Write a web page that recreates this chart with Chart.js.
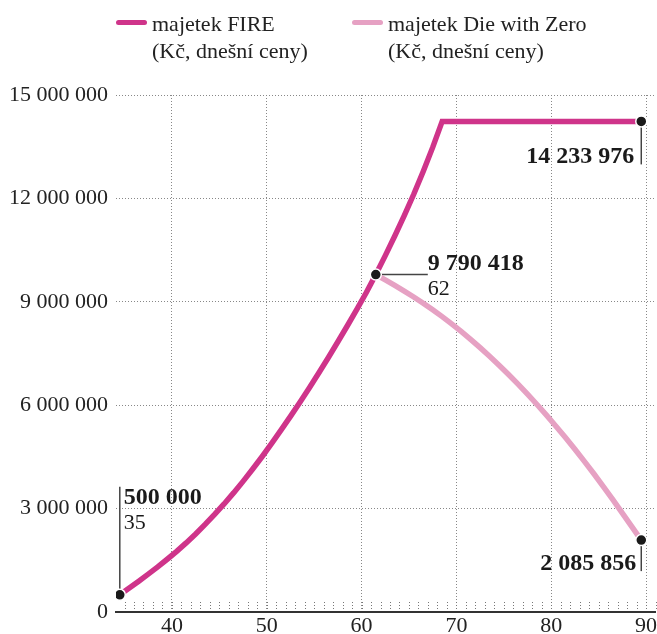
<!DOCTYPE html>
<html>
<head>
<meta charset="utf-8">
<script src="https://cdn.jsdelivr.net/npm/chart.js@4.4.1/dist/chart.umd.min.js"></script>
<style>
  html, body { margin: 0; padding: 0; background: #fff; overflow: hidden; }
  #wrap { position: relative; width: 657px; height: 634px; }
  #chart { position: absolute; left: 0; top: 0; }
  .item { position: absolute; top: 10px; padding-left: 36px; font-family: 'Liberation Serif', serif; font-size: 22px; line-height: 27px; color: #222; white-space: nowrap; }
  .item .swatch { position: absolute; left: 0; top: 10px; width: 31px; height: 5px; border-radius: 3px; }
  #item0 { left: 116px; }
  #item1 { left: 352px; }
</style>
</head>
<body>
<div id="wrap">
  <canvas id="chart" width="657" height="634"></canvas>
  <div id="legend"></div>
</div>
<script>
// věk (x) a majetek v Kč, dnešní ceny
const ages = [35, 36, 37, 38, 39, 40, 41, 42, 43, 44, 45, 46, 47, 48, 49, 50, 51, 52, 53, 54,
              55, 56, 57, 58, 59, 60, 61, 62, 63, 64, 65, 66, 67, 68, 69, 70, 71, 72, 73, 74,
              75, 76, 77, 78, 79, 80, 81, 82, 83, 84, 85, 86, 87, 88, 89, 90];
const fireValues = [500000, 695000, 895000, 1100000, 1310000, 1530000, 1760000, 2005000, 2265000, 2540000,
                    2830000, 3135000, 3455000, 3790000, 4140000, 4505000, 4885000, 5275000, 5675000, 6085000,
                    6505000, 6940000, 7385000, 7840000, 8305000, 8780000, 9270000, 9790418, 10340000, 10910000,
                    11500000, 12120000, 12780000, 13480000, 14233976, 14233976, 14233976, 14233976, 14233976, 14233976,
                    14233976, 14233976, 14233976, 14233976, 14233976, 14233976, 14233976, 14233976, 14233976, 14233976,
                    14233976, 14233976, 14233976, 14233976, 14233976, 14233976];
const dwzAges = [62, 63, 64, 65, 66, 67, 68, 69, 70, 71, 72, 73, 74, 75, 76, 77, 78, 79, 80, 81,
                 82, 83, 84, 85, 86, 87, 88, 89, 90];
const dwzValues = [9790418, 9635000, 9475000, 9310000, 9140000, 8960000, 8770000, 8570000, 8360000, 8140000,
                   7910000, 7670000, 7420000, 7160000, 6890000, 6610000, 6320000, 6020000, 5710000, 5390000,
                   5060000, 4720000, 4370000, 4010000, 3640000, 3260000, 2870000, 2475000, 2085856];

const seriesNames = ['majetek FIRE', 'majetek Die with Zero'];
const unitNote = '(Kč, dnešní ceny)';
const xTicks = [40, 50, 60, 70, 80, 90];
const yTicks = [0, 3000000, 6000000, 9000000, 12000000, 15000000];

// popisky bodů: řada, věk, zda ukázat věk
const calloutSeries = [0, 0, 0, 1];
const calloutAges = [35, 62, 90, 90];
const calloutShowAge = [true, true, false, false];

const colors = ['#cf348a', '#e6a1c3'];
const fmt = v => String(Math.round(v)).replace(/\B(?=(\d{3})+(?!\d))/g, ' ');
const AGE_SHIFT = 0.5; // ticks sit half a year right of the data points

// legend in html
const legend = document.getElementById('legend');
seriesNames.forEach((name, i) => {
    const div = document.createElement('div');
    div.className = 'item';
    div.id = 'item' + i;
    div.innerHTML = '<span class="swatch" style="background:' + colors[i] + '"></span>' + name + '<br>' + unitNote;
    legend.appendChild(div);
});

function isCallout(ctx) {
    const age = ctx.raw && ctx.raw.x;
    return calloutAges.some((a, k) => a === age && calloutSeries[k] === ctx.datasetIndex);
}

function calloutPoint(chart, k) {
    const { x, y } = chart.scales;
    const vals = calloutSeries[k] === 0 ? fireValues : dwzValues;
    const list = calloutSeries[k] === 0 ? ages : dwzAges;
    const value = vals[list.indexOf(calloutAges[k])];
    return { value, px: x.getPixelForValue(calloutAges[k]), py: y.getPixelForValue(value) };
}

const decorations = {
    id: 'decorations',
    beforeDatasetsDraw(chart) {
        const { ctx, chartArea, scales: { x } } = chart;
        ctx.save();
        // small yearly marks above the axis
        ctx.strokeStyle = '#777';
        ctx.lineWidth = 1;
        ctx.setLineDash([1, 2]);
        for (let v = Math.ceil(x.min - AGE_SHIFT) + AGE_SHIFT; v <= x.max; v++) {
            const px = Math.round(x.getPixelForValue(v)) + 0.5;
            ctx.beginPath();
            ctx.moveTo(px, chartArea.bottom - 3);
            ctx.lineTo(px, chartArea.bottom - 11);
            ctx.stroke();
        }
        ctx.setLineDash([]);
        // leader lines
        ctx.strokeStyle = '#444';
        ctx.lineWidth = 1.5;
        calloutAges.forEach((age, k) => {
            const { px, py } = calloutPoint(chart, k);
            ctx.beginPath();
            ctx.moveTo(px, py);
            if (k === 0) ctx.lineTo(px, py - 108);
            if (k === 1) ctx.lineTo(px + 52, py);
            if (k === 2) ctx.lineTo(px, py + 43);
            if (k === 3) ctx.lineTo(px, py + 31);
            ctx.stroke();
        });
        ctx.restore();
    },
    afterDatasetsDraw(chart) {
        const { ctx } = chart;
        ctx.save();
        ctx.fillStyle = '#1a1a1a';
        ctx.textBaseline = 'alphabetic';
        calloutAges.forEach((age, k) => {
            const { value, px, py } = calloutPoint(chart, k);
            let tx, ty, align;
            if (k === 0) { tx = px + 4; ty = py - 91; align = 'left'; }
            if (k === 1) { tx = px + 52; ty = py - 5; align = 'left'; }
            if (k === 2) { tx = px - 7; ty = py + 42; align = 'right'; }
            if (k === 3) { tx = px - 5; ty = py + 30; align = 'right'; }
            ctx.textAlign = align;
            ctx.font = "bold 24px 'Liberation Serif', serif";
            ctx.fillText(fmt(value), tx, ty);
            if (calloutShowAge[k]) {
                ctx.font = "22px 'Liberation Serif', serif";
                ctx.fillText(String(age), tx, ty + 25);
            }
        });
        ctx.restore();
    }
};

Chart.defaults.font.family = "'Liberation Serif', serif";
Chart.defaults.color = '#222';

new Chart(document.getElementById('chart'), {
    type: 'line',
    data: {
        datasets: [
            {
                label: seriesNames[0],
                data: ages.map((a, i) => ({ x: a, y: fireValues[i] })),
                borderColor: colors[0],
                borderWidth: 5.5,
                tension: 0,
                pointRadius: ctx => isCallout(ctx) ? 5.5 : 0,
                pointBackgroundColor: '#1a1a1a',
                pointBorderColor: '#fff',
                pointBorderWidth: 1.5
            },
            {
                label: seriesNames[1],
                data: dwzAges.map((a, i) => ({ x: a, y: dwzValues[i] })),
                borderColor: colors[1],
                borderWidth: 5.5,
                tension: 0,
                pointRadius: ctx => isCallout(ctx) ? 5.5 : 0,
                pointBackgroundColor: '#1a1a1a',
                pointBorderColor: '#fff',
                pointBorderWidth: 1.5
            }
        ]
    },
    options: {
        responsive: false,
        animation: false,
        layout: { autoPadding: false, padding: { top: 95, right: 1.5, bottom: 0, left: 0 } },
        plugins: { legend: { display: false }, tooltip: { enabled: false } },
        scales: {
            x: {
                type: 'linear',
                min: 34.6,
                max: 91.5,
                afterBuildTicks: s => { s.ticks = xTicks.map(t => ({ value: t + AGE_SHIFT })); },
                afterFit: s => { s.height = 22; s.paddingLeft = 0; s.paddingRight = 0; },
                ticks: {
                    font: { size: 22 },
                    padding: 1,
                    maxRotation: 0,
                    callback: v => String(Math.round(v - AGE_SHIFT))
                },
                grid: { color: '#888', lineWidth: 1, drawTicks: false },
                border: { display: true, color: '#333', width: 2, dash: [1, 2] }
            },
            y: {
                min: 0,
                max: 15000000,
                afterBuildTicks: s => { s.ticks = yTicks.map(t => ({ value: t })); },
                afterFit: s => { s.width = 116; },
                ticks: {
                    font: { size: 22 },
                    padding: 8,
                    callback: v => fmt(v)
                },
                grid: { color: '#888', lineWidth: 1, drawTicks: false },
                border: { display: false, dash: [1, 2] }
            }
        }
    },
    plugins: [decorations]
});
</script>
</body>
</html>
